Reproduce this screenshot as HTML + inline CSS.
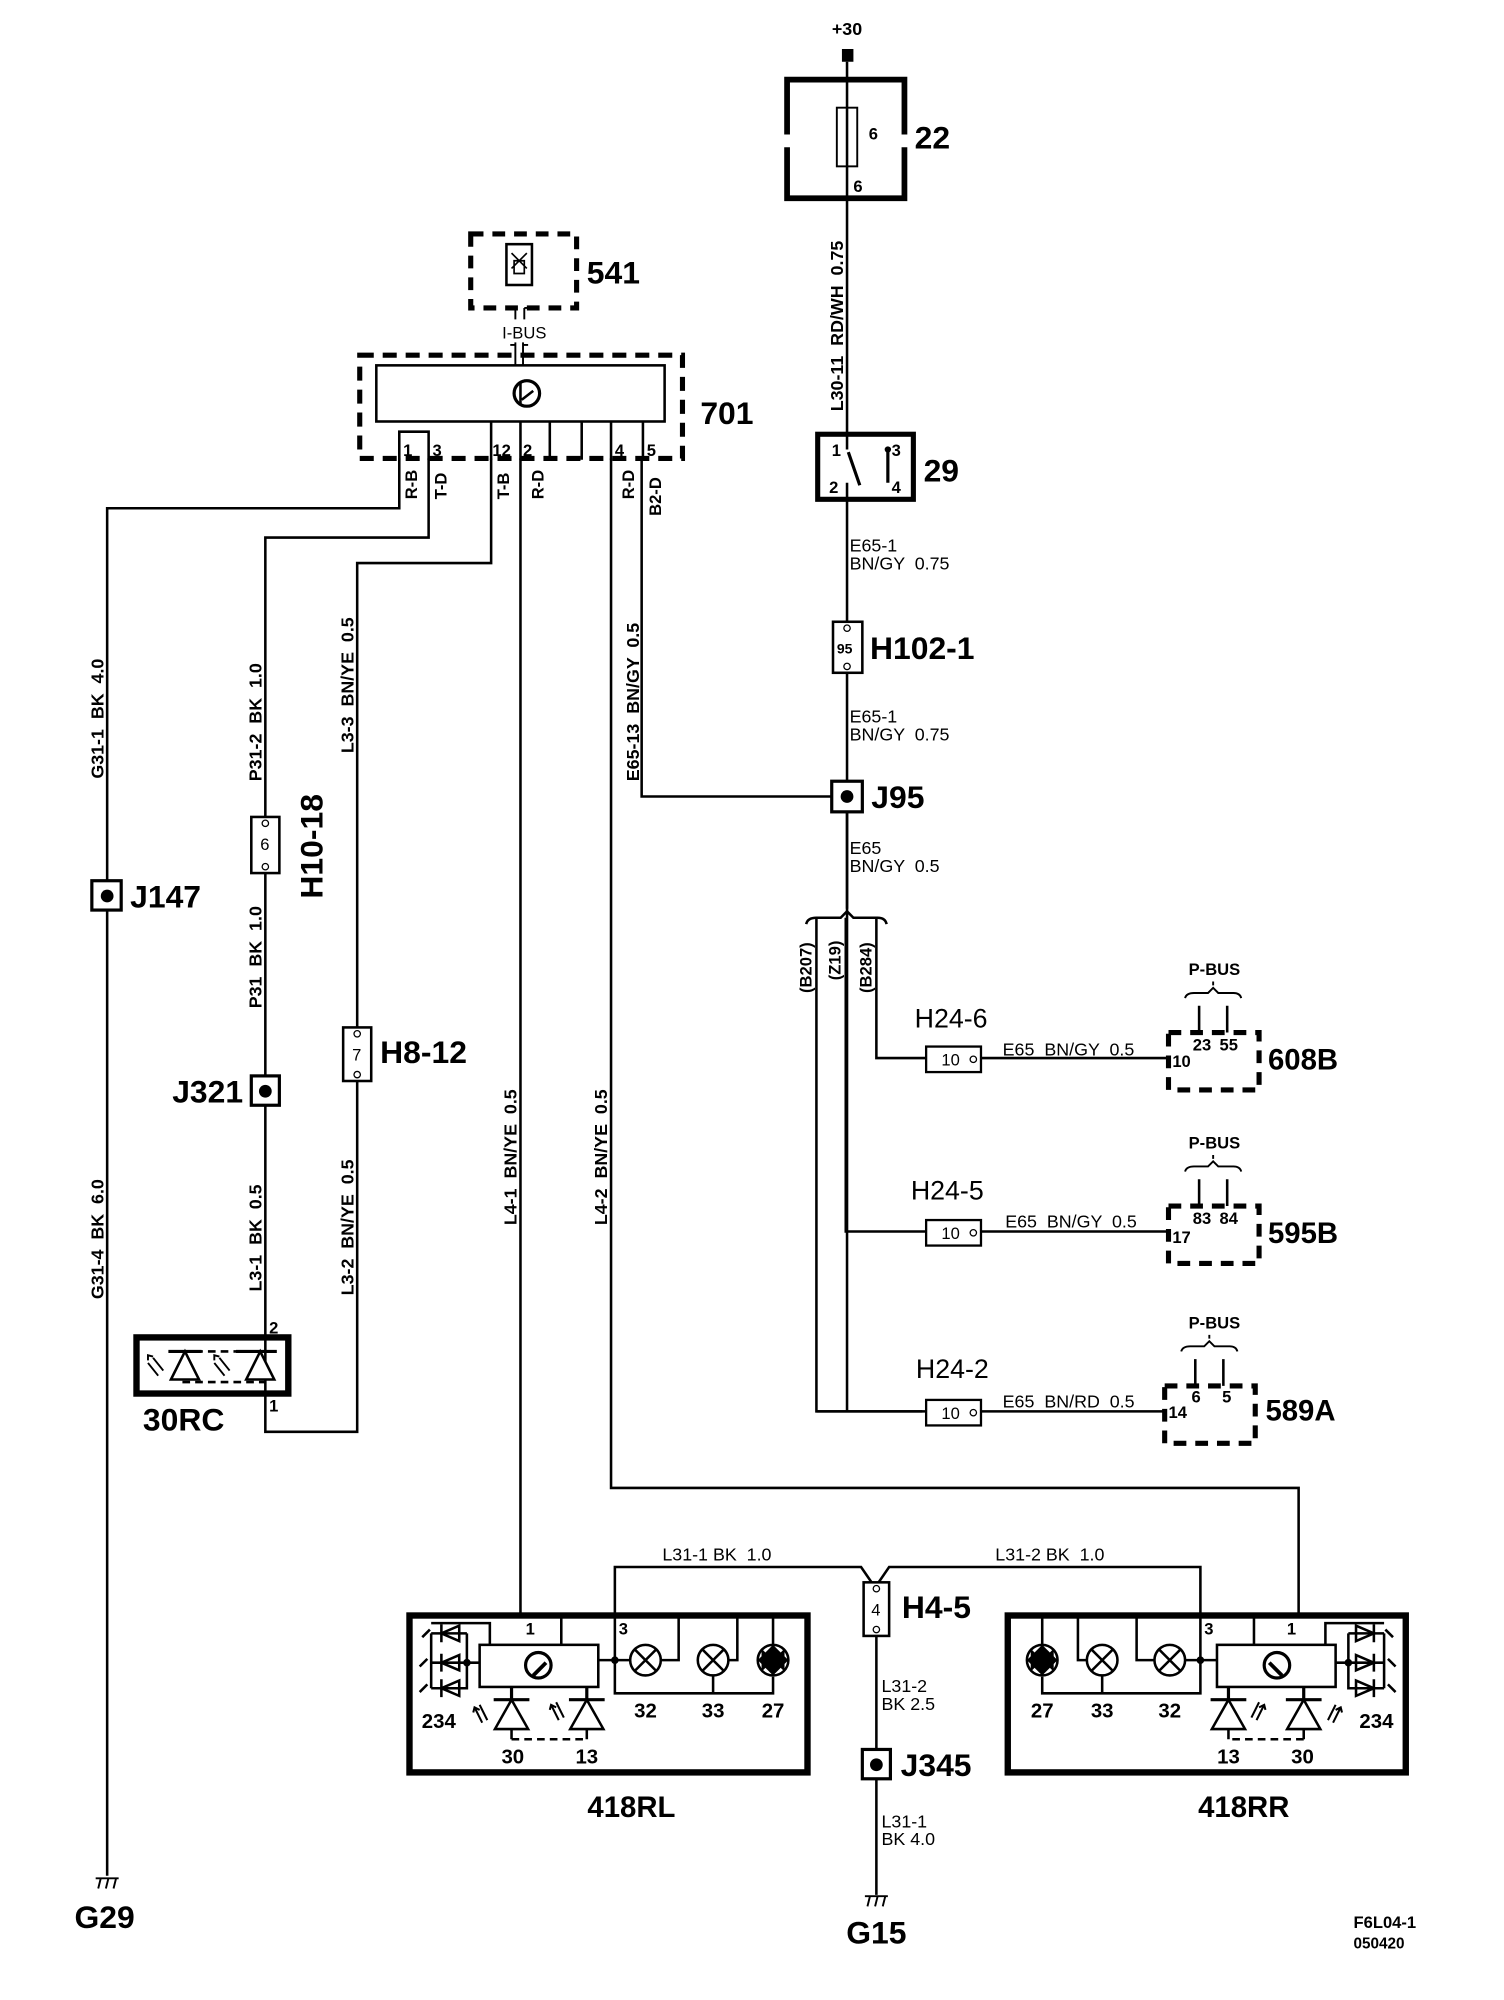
<!DOCTYPE html>
<html><head><meta charset="utf-8"><style>
html,body{margin:0;padding:0;background:#fff;}
svg{display:block;}
text{font-family:"Liberation Sans Narrow","Liberation Sans",sans-serif;fill:#000;white-space:pre;}
.s{font-size:13px;font-weight:bold;}
.w{font-size:14px;font-weight:bold;}
.m{font-size:14px;}
.L{font-size:25px;font-weight:bold;}
.n{font-size:16px;font-weight:bold;}
</style></head><body>
<svg width="1504" height="2000" viewBox="0 0 1179 1567" xmlns="http://www.w3.org/2000/svg">
<defs>
<g id="lampmod">
  <rect x="321" y="1266" width="312" height="123" fill="none" stroke="#000" stroke-width="5"/>
  <rect x="376" y="1289" width="93" height="33" fill="none" stroke="#000" stroke-width="2"/>
  <circle cx="422" cy="1305" r="10" fill="none" stroke="#000" stroke-width="2.5"/>
  <path d="M418 1313 L428 1303" stroke="#000" stroke-width="3"/>
  <path d="M440 1268 V1289" stroke="#000" stroke-width="2"/>
  <path d="M482 1301 H495 M469 1301 H482 M482 1266 V1327 H606 V1314 M559 1313 V1327 M518 1301 H532 V1268 M571 1301 H578 V1268 M606 1289 V1268" fill="none" stroke="#000" stroke-width="2"/>
  <circle cx="482" cy="1301" r="3"/>
  <circle cx="506" cy="1301" r="12" fill="#fff" stroke="#000" stroke-width="2"/>
  <path d="M498 1293 L514 1309 M514 1293 L498 1309" stroke="#000" stroke-width="2"/>
  <circle cx="559" cy="1301" r="12" fill="#fff" stroke="#000" stroke-width="2"/>
  <path d="M551 1293 L567 1309 M567 1293 L551 1309" stroke="#000" stroke-width="2"/>
  <circle cx="606" cy="1301" r="12" fill="#fff" stroke="#000" stroke-width="2"/>
  <path d="M597 1292 L615 1310 L615 1292 L597 1310 Z" fill="#000"/>
  <path d="M594 1301 L606 1289 L618 1301 L606 1313 Z" fill="#000"/>
  <path d="M338 1272 H384 V1289 M338 1280 V1323 M366 1280 V1323 H338 M338 1280 H366 M338 1303 H376" fill="none" stroke="#000" stroke-width="2"/>
  <circle cx="366" cy="1303" r="3"/>
  <path d="M360 1274 L346 1280 L360 1286 Z M360 1297 L346 1303 L360 1309 Z M360 1317 L346 1323 L360 1329 Z" fill="none" stroke="#000" stroke-width="2"/>
  <path d="M346 1273 V1287 M346 1296 V1310 M346 1316 V1330" stroke="#000" stroke-width="2"/>
  <path d="M331 1283 l6 -6 M329 1306 l6 -6 M329 1326 l6 -6" stroke="#000" stroke-width="2"/>
  <path d="M401 1322 V1332 M460 1322 V1332 M387 1332 H415 M446 1332 H474" stroke="#000" stroke-width="2.5"/>
  <path d="M401 1332 L388 1355 H414 Z M460 1332 L447 1355 H473 Z" fill="none" stroke="#000" stroke-width="2"/>
  <path d="M401 1355 V1363 M460 1355 V1363" stroke="#000" stroke-width="2"/>
  <path d="M401 1363 H460" stroke="#000" stroke-width="2" stroke-dasharray="6 4"/>
  <path d="M378 1350 l-6 -12 M382 1348 l-6 -12 M371 1342 l1 -4 l4 2 M438 1348 l-6 -12 M442 1346 l-6 -12 M431 1340 l1 -4 l4 2" fill="none" stroke="#000" stroke-width="1.6"/>
</g>
</defs>

<text x="664" y="27" class="s" text-anchor="middle" style="font-size:14px">+30</text>
<rect x="660" y="38" width="9" height="10"/>
<path d="M664 48 V1106" stroke="#000" stroke-width="2" fill="none"/>
<path d="M617 105 V62 H709 V105 M709 115 V155 H617 V115" fill="none" stroke="#000" stroke-width="4.5"/>
<rect x="656" y="84" width="16" height="46" fill="#fff" stroke="#000" stroke-width="1.5"/>
<path d="M664 84 V130" stroke="#000" stroke-width="2"/>
<text x="681" y="109" class="s">6</text>
<text x="669" y="150" class="s">6</text>
<text x="717" y="116" class="L">22</text>
<text transform="translate(661 322) rotate(-90)" class="w">L30-11  RD/WH  0.75</text>

<rect x="641" y="340" width="75" height="51" fill="#fff" stroke="#000" stroke-width="4"/>
<path d="M664 340 V352 M664 391 V378" stroke="#000" stroke-width="2"/>
<path d="M665 354 L674 380 M696 352 V378" stroke="#000" stroke-width="2.5"/>
<circle cx="696" cy="352" r="2.5"/>
<text x="652" y="357" class="s">1</text><text x="699" y="357" class="s">3</text>
<text x="650" y="386" class="s">2</text><text x="699" y="386" class="s">4</text>
<text x="724" y="377" class="L">29</text>
<text x="666" y="432" class="m">E65-1</text><text x="666" y="446" class="m">BN/GY  0.75</text>
<rect x="653" y="487" width="23" height="40" fill="#fff" stroke="#000" stroke-width="2"/>
<circle cx="664" cy="492" r="2.5" fill="#fff" stroke="#000"/><circle cx="664" cy="522" r="2.5" fill="#fff" stroke="#000"/>
<text x="656" y="512" class="s" style="font-size:11px">95</text>
<text x="682" y="516" class="L">H102-1</text>
<text x="666" y="566" class="m">E65-1</text><text x="666" y="580" class="m">BN/GY  0.75</text>
<rect x="652" y="612" width="24" height="24" fill="#fff" stroke="#000" stroke-width="2.5"/>
<circle cx="664" cy="624" r="5"/>
<text x="683" y="633" class="L">J95</text>
<path d="M503 359 V624 H652" stroke="#000" stroke-width="2" fill="none"/>
<text x="666" y="669" class="m">E65</text><text x="666" y="683" class="m">BN/GY  0.5</text>
<path d="M664 636 V712" stroke="#000" stroke-width="2"/>
<path d="M632 724 Q633 719 640 719 H659 L664 714 L669 719 H688 Q694 719 695 724" fill="none" stroke="#000" stroke-width="2"/>
<path d="M640 719 V1106 H726 M663 719 V965 H726 M687 719 V829 H726" stroke="#000" stroke-width="2" fill="none"/>
<text transform="translate(636 778) rotate(-90)" class="s">(B207)</text>
<text transform="translate(659 768) rotate(-90)" class="s">(Z19)</text>
<text transform="translate(683 778) rotate(-90)" class="s">(B284)</text>

<rect x="726" y="820" width="43" height="20" fill="#fff" stroke="#000" stroke-width="1.8"/>
<circle cx="763" cy="830" r="2.5" fill="#fff" stroke="#000"/>
<text x="738" y="835" class="s" style="font-weight:normal">10</text>
<path d="M769 829 H916" stroke="#000" stroke-width="2"/>
<text x="717" y="805" class="L" style="font-size:21px;font-weight:normal">H24-6</text>
<text x="786" y="827" class="m">E65  BN/GY  0.5</text>
<rect x="916" y="809" width="71" height="45" fill="none" stroke="#000" stroke-width="4" stroke-dasharray="10 7"/>
<text x="919" y="836" class="s">10</text><text x="935" y="823" class="s">23</text><text x="956" y="823" class="s">55</text>
<path d="M940 788 V809 M962 788 V809" stroke="#000" stroke-width="2"/>
<path d="M929 782 Q930 778 936 778 H947 L951 774 L955 778 H967 Q972 778 973 782 M951 769 V772" fill="none" stroke="#000" stroke-width="1.5"/>
<text x="952" y="764" class="s" text-anchor="middle">P-BUS</text>
<text x="994" y="838" class="L" style="font-size:23px">608B</text>

<g transform="translate(0 136)">
<rect x="726" y="820" width="43" height="20" fill="#fff" stroke="#000" stroke-width="1.8"/>
<circle cx="763" cy="830" r="2.5" fill="#fff" stroke="#000"/>
<text x="738" y="835" class="s" style="font-weight:normal">10</text>
<path d="M769 829 H916" stroke="#000" stroke-width="2"/>
<rect x="916" y="809" width="71" height="45" fill="none" stroke="#000" stroke-width="4" stroke-dasharray="10 7"/>
<path d="M940 788 V809 M962 788 V809" stroke="#000" stroke-width="2"/>
<path d="M929 782 Q930 778 936 778 H947 L951 774 L955 778 H967 Q972 778 973 782 M951 769 V772" fill="none" stroke="#000" stroke-width="1.5"/>
<text x="952" y="764" class="s" text-anchor="middle">P-BUS</text>
</g>
<text x="714" y="940" class="L" style="font-size:21px;font-weight:normal">H24-5</text>
<text x="788" y="962" class="m">E65  BN/GY  0.5</text>
<text x="919" y="974" class="s">17</text><text x="935" y="959" class="s">83</text><text x="956" y="959" class="s">84</text>
<text x="994" y="974" class="L" style="font-size:23px">595B</text>

<g transform="translate(-3 277)">
<rect x="729" y="820" width="43" height="20" fill="#fff" stroke="#000" stroke-width="1.8"/>
<circle cx="766" cy="830" r="2.5" fill="#fff" stroke="#000"/>
<text x="741" y="835" class="s" style="font-weight:normal">10</text>
<path d="M772 829 H916" stroke="#000" stroke-width="2"/>
<rect x="916" y="809" width="71" height="45" fill="none" stroke="#000" stroke-width="4" stroke-dasharray="10 7"/>
<path d="M940 788 V809 M962 788 V809" stroke="#000" stroke-width="2"/>
<path d="M929 782 Q930 778 936 778 H947 L951 774 L955 778 H967 Q972 778 973 782 M951 769 V772" fill="none" stroke="#000" stroke-width="1.5"/>
<text x="955" y="764" class="s" text-anchor="middle">P-BUS</text>
</g>
<path d="M640 1106 H723" stroke="#000" stroke-width="2"/>
<text x="718" y="1080" class="L" style="font-size:21px;font-weight:normal">H24-2</text>
<text x="786" y="1103" class="m">E65  BN/RD  0.5</text>
<text x="916" y="1111" class="s">14</text><text x="934" y="1099" class="s">6</text><text x="958" y="1099" class="s">5</text>
<text x="992" y="1113" class="L" style="font-size:23px">589A</text>

<rect x="369" y="183" width="83" height="58" fill="none" stroke="#000" stroke-width="4" stroke-dasharray="10 7"/>
<rect x="397" y="191" width="20" height="32" fill="none" stroke="#000" stroke-width="2"/>
<path d="M401 198 L413 210 M413 198 L401 210 M403 204 H411 V214 H403 Z" fill="none" stroke="#000" stroke-width="1.3"/>
<text x="460" y="222" class="L">541</text>
<path d="M404 241 V250 M411 241 V250 M404 268 V286 M410 268 V286" stroke="#000" stroke-width="1.5"/>
<path d="M401 241 H404 M411 241 H416 M400 270 H404 M410 270 H414" stroke="#000" stroke-width="1.5"/>
<text x="411" y="265" class="s" text-anchor="middle" style="font-weight:normal">I-BUS</text>
<rect x="282" y="278" width="253" height="81" fill="none" stroke="#000" stroke-width="4" stroke-dasharray="11 7"/>
<rect x="295" y="286" width="226" height="44" fill="#fff" stroke="#000" stroke-width="2"/>
<circle cx="413" cy="308" r="10" fill="none" stroke="#000" stroke-width="2.5"/>
<path d="M408 300 V316 M409 313 L418 306" stroke="#000" stroke-width="2"/>
<text x="549" y="332" class="L">701</text>
<path d="M313 360 V338 H336 V360" fill="none" stroke="#000" stroke-width="2"/>
<path d="M385 330 V360 M408 330 V360 M431 330 V360 M456 330 V360 M479 330 V360 M504 330 V360" stroke="#000" stroke-width="2"/>
<text x="316" y="357" class="s">1</text><text x="339" y="357" class="s">3</text>
<text x="386" y="357" class="s">12</text><text x="410" y="357" class="s">2</text>
<text x="482" y="357" class="s">4</text><text x="507" y="357" class="s">5</text>
<text transform="translate(327 391) rotate(-90)" class="s">R-B</text>
<text transform="translate(350 391) rotate(-90)" class="s">T-D</text>
<text transform="translate(399 391) rotate(-90)" class="s">T-B</text>
<text transform="translate(426 391) rotate(-90)" class="s">R-D</text>
<text transform="translate(497 391) rotate(-90)" class="s">R-D</text>
<text transform="translate(518 404) rotate(-90)" class="s">B2-D</text>

<path d="M313 359 V398 H84 V1470 M336 359 V421 H208 V1046 M385 359 V441 H280 V1122 H208 V1093 M408 359 V1268 M479 359 V1166 H1018 V1268" fill="none" stroke="#000" stroke-width="2"/>
<text transform="translate(81 610) rotate(-90)" class="w">G31-1  BK  4.0</text>
<text transform="translate(81 1018) rotate(-90)" class="w">G31-4  BK  6.0</text>
<text transform="translate(205 612) rotate(-90)" class="w">P31-2  BK  1.0</text>
<text transform="translate(205 790) rotate(-90)" class="w">P31  BK  1.0</text>
<text transform="translate(205 1012) rotate(-90)" class="w">L3-1  BK  0.5</text>
<text transform="translate(277 590) rotate(-90)" class="w">L3-3  BN/YE  0.5</text>
<text transform="translate(277 1015) rotate(-90)" class="w">L3-2  BN/YE  0.5</text>
<text transform="translate(405 960) rotate(-90)" class="w">L4-1  BN/YE  0.5</text>
<text transform="translate(476 960) rotate(-90)" class="w">L4-2  BN/YE  0.5</text>
<text transform="translate(501 612) rotate(-90)" class="w">E65-13  BN/GY  0.5</text>

<rect x="72" y="690" width="23" height="23" fill="#fff" stroke="#000" stroke-width="2.5"/>
<circle cx="84" cy="702" r="5"/>
<text x="102" y="711" class="L">J147</text>

<rect x="197" y="640" width="22" height="44" fill="#fff" stroke="#000" stroke-width="2"/>
<circle cx="208" cy="645" r="2.5" fill="#fff" stroke="#000"/><circle cx="208" cy="679" r="2.5" fill="#fff" stroke="#000"/>
<text x="204" y="666" class="s" style="font-weight:normal">6</text>
<text transform="translate(253 704) rotate(-90)" class="L">H10-18</text>

<rect x="197" y="843" width="22" height="23" fill="#fff" stroke="#000" stroke-width="2.5"/>
<circle cx="208" cy="855" r="5"/>
<text x="135" y="864" class="L">J321</text>

<rect x="269" y="805" width="22" height="42" fill="#fff" stroke="#000" stroke-width="2"/>
<circle cx="280" cy="810" r="2.5" fill="#fff" stroke="#000"/><circle cx="280" cy="842" r="2.5" fill="#fff" stroke="#000"/>
<text x="276" y="831" class="s" style="font-weight:normal">7</text>
<text x="298" y="833" class="L">H8-12</text>

<rect x="107" y="1048" width="119" height="44" fill="#fff" stroke="#000" stroke-width="5"/>
<path d="M208 1046 V1093" stroke="#000" stroke-width="2"/>
<path d="M143 1059 H208 M143 1083 H208" stroke="#000" stroke-width="2" stroke-dasharray="6 4"/>
<path d="M132 1059 H158 M185 1059 H217" stroke="#000" stroke-width="2.5"/>
<path d="M145 1059 L134 1081 H156 Z M204 1059 L193 1081 H215 Z" fill="#fff" stroke="#000" stroke-width="2"/>
<path d="M128 1074 l-8 -10 M124 1078 l-8 -10 M116 1066 l0 -4 l4 1 M180 1074 l-8 -10 M176 1078 l-8 -10 M168 1066 l0 -4 l4 1" fill="none" stroke="#000" stroke-width="1.5"/>
<text x="211" y="1045" class="s">2</text><text x="211" y="1106" class="s">1</text>
<text x="112" y="1121" class="L">30RC</text>

<path d="M75 1472 H93 M77 1480 l2 -8 M83 1480 l2 -8 M89 1480 l2 -8" stroke="#000" stroke-width="1.5"/>
<text x="82" y="1511" class="L" text-anchor="middle">G29</text>

<use href="#lampmod"/>
<use href="#lampmod" transform="matrix(-1 0 0 1 1423 0)"/>
<text x="412" y="1281" class="s">1</text><text x="485" y="1281" class="s">3</text>
<text x="1016" y="1281" class="s" text-anchor="end">1</text><text x="944" y="1281" class="s">3</text>
<g class="n">
<text x="344" y="1354" text-anchor="middle">234</text>
<text x="506" y="1346" text-anchor="middle">32</text>
<text x="559" y="1346" text-anchor="middle">33</text>
<text x="606" y="1346" text-anchor="middle">27</text>
<text x="402" y="1382" text-anchor="middle">30</text>
<text x="460" y="1382" text-anchor="middle">13</text>
<text x="1079" y="1354" text-anchor="middle">234</text>
<text x="917" y="1346" text-anchor="middle">32</text>
<text x="864" y="1346" text-anchor="middle">33</text>
<text x="817" y="1346" text-anchor="middle">27</text>
<text x="1021" y="1382" text-anchor="middle">30</text>
<text x="963" y="1382" text-anchor="middle">13</text>
</g>
<text x="495" y="1424" class="L" text-anchor="middle" style="font-size:23px">418RL</text>
<text x="975" y="1424" class="L" text-anchor="middle" style="font-size:23px">418RR</text>

<path d="M482 1268 V1228 H675 L686 1244 L697 1228 H941 V1268" fill="none" stroke="#000" stroke-width="2"/>
<text x="562" y="1223" class="m" text-anchor="middle">L31-1 BK  1.0</text>
<text x="823" y="1223" class="m" text-anchor="middle">L31-2 BK  1.0</text>
<rect x="677" y="1240" width="20" height="42" fill="#fff" stroke="#000" stroke-width="2"/>
<circle cx="687" cy="1245" r="2.5" fill="#fff" stroke="#000"/><circle cx="687" cy="1277" r="2.5" fill="#fff" stroke="#000"/>
<text x="683" y="1266" class="s" style="font-weight:normal">4</text>
<text x="707" y="1268" class="L">H4-5</text>
<path d="M687 1282 V1485" stroke="#000" stroke-width="2"/>
<text x="691" y="1326" class="m">L31-2</text><text x="691" y="1340" class="m">BK 2.5</text>
<rect x="676" y="1371" width="22" height="23" fill="#fff" stroke="#000" stroke-width="2.5"/>
<circle cx="687" cy="1383" r="5"/>
<text x="706" y="1392" class="L">J345</text>
<text x="691" y="1432" class="m">L31-1</text><text x="691" y="1446" class="m">BK 4.0</text>
<path d="M678 1486 H696 M680 1494 l2 -8 M686 1494 l2 -8 M692 1494 l2 -8" stroke="#000" stroke-width="1.5"/>
<text x="687" y="1523" class="L" text-anchor="middle">G15</text>

<text x="1061" y="1511" class="s">F6L04-1</text>
<text x="1061" y="1527" class="s" style="font-size:12px">050420</text>
</svg>
</body></html>
